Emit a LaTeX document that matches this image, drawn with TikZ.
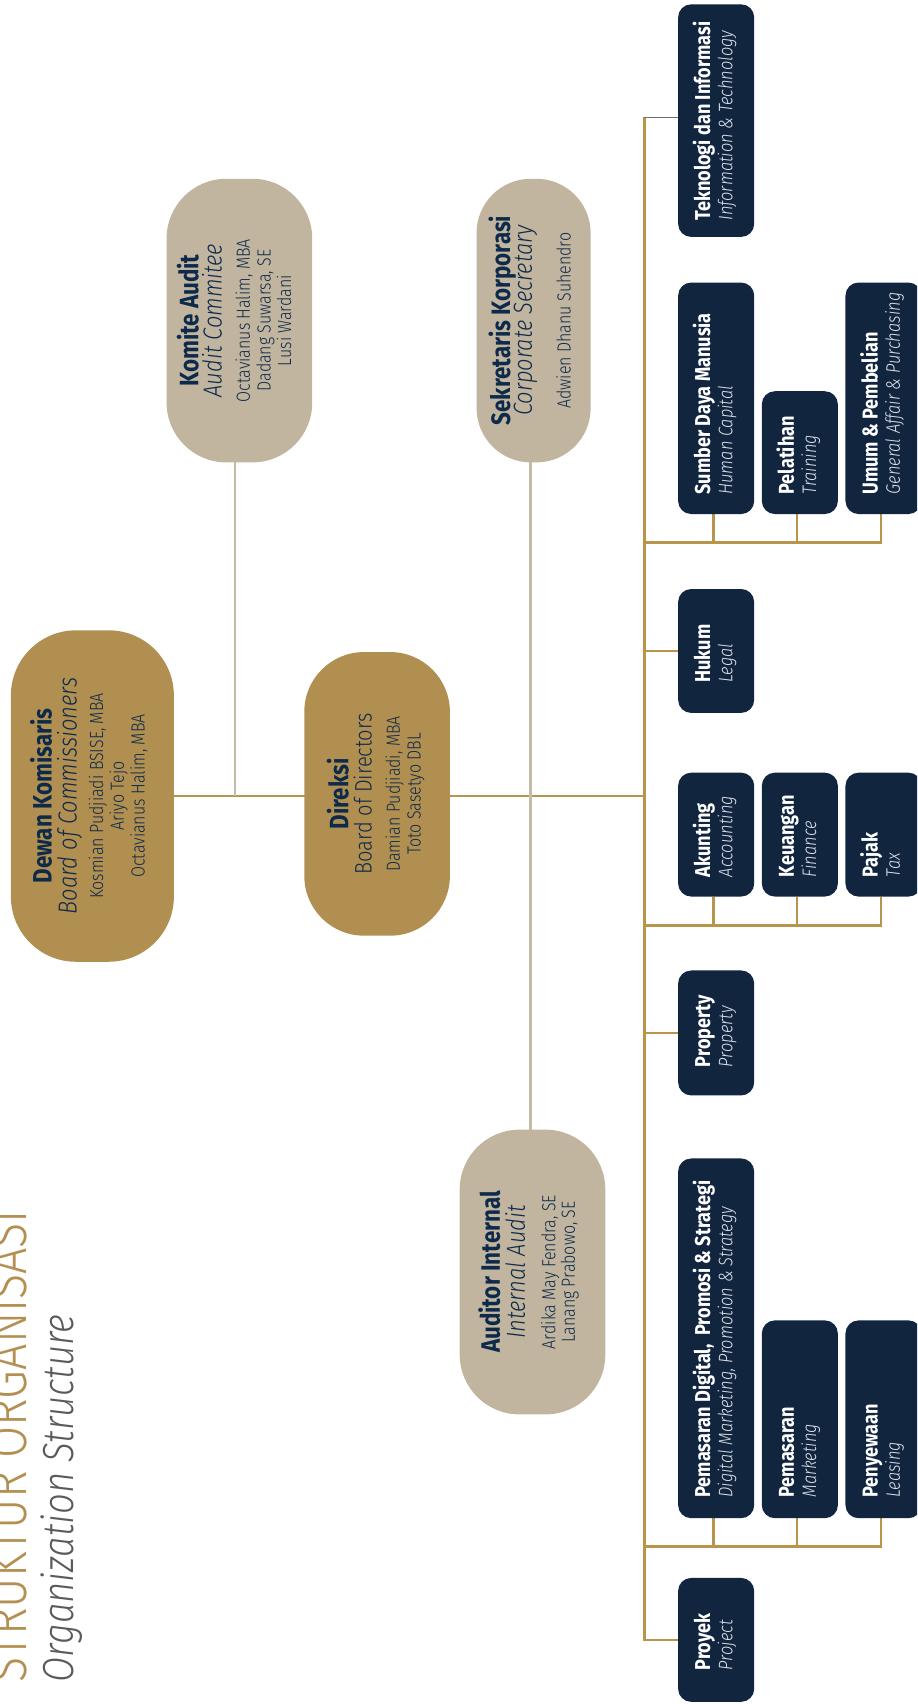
\documentclass[tikz,border=0pt]{standalone}
\usepackage{fontspec}
\setmainfont{Fira Sans}[FakeStretch=0.84]
\newfontfamily\lightfont{Fira Sans Light}[FakeStretch=0.84]
\usetikzlibrary{backgrounds}
\definecolor{gold}{HTML}{B08F50}
\definecolor{goldline}{HTML}{B8954A}
\definecolor{beige}{HTML}{C1B59F}
\definecolor{beigeline}{HTML}{C6BBA6}
\definecolor{navy}{HTML}{11253F}
\definecolor{ink}{HTML}{0E2A4B}
\definecolor{subgray}{HTML}{DDE2E9}
\definecolor{greyline}{HTML}{6F6F6F}
\definecolor{titlegold}{HTML}{B39052}
\definecolor{titlegrey}{HTML}{5A5A5A}

\tikzset{
  capsule/.style={fill=#1, draw=none, inner sep=0pt, outer sep=0pt},
  navybox/.style={fill=navy, draw=none, rounded corners=12pt, minimum width=70pt, inner sep=0pt, outer sep=0pt},
  txt/.style={inner sep=0pt, outer sep=0pt, rotate=90, anchor=base},
  captitle/.style={txt, text=ink, font=\fontsize{24.5}{28}\selectfont\bfseries},
  capsub/.style={txt, text=ink, font=\lightfont\fontsize{24}{28}\selectfont\itshape},
  capsubup/.style={txt, text=ink, font=\lightfont\fontsize{22}{26}\selectfont},
  capname/.style={txt, text=ink, font=\lightfont\fontsize{17.5}{20}\selectfont},
  boxtitle/.style={txt, anchor=base west, text=white, font=\fontsize{19.8}{24}\selectfont\bfseries},
  boxsub/.style={txt, anchor=base west, text=subgray, font=\lightfont\fontsize{18}{22}\selectfont\itshape},
  goldln/.style={draw=goldline, line width=2.4pt},
  beigeln/.style={draw=beigeline, line width=2.4pt},
  greyln/.style={draw=greyline, line width=1.4pt},
}

% #1 name, #2 x left, #3 y top, #4 y bottom, #5 text start above bottom, #6 title, #7 subtitle
\newcommand\navyunit[7]{%
  \node[navybox, minimum height={(#4)-(#3)}] (#1) at ({#2+35},{((#3)+(#4))/2}) {};
  \node[boxtitle] (#1-t) at ([xshift=29.5pt,yshift=#5pt]#1.south west) {#6};
  \node[boxsub] (#1-s) at ([xshift=50pt,yshift=#5pt]#1.south west) {#7};
}

\begin{document}
\begin{tikzpicture}[x=1pt,y=-1pt]
\useasboundingbox (0,0) rectangle (844,1568);
\clip (0,0) rectangle (844,1568);

% titles
\node[txt, anchor=base west, text=titlegold, font=\lightfont\fontsize{51}{56}\selectfont] (title) at (24,1548) {STRUKTUR ORGANISASI};
\node[txt, anchor=base west, text=titlegrey, font=\lightfont\fontsize{40}{46}\selectfont\itshape] (subtitle) at (68,1548) {Organization Structure};

% capsules
\node[capsule=gold, rounded corners=60pt, minimum width=150pt, minimum height=305pt] (dewan) at (85,732.5) {};
\node[captitle] (dewan-t) at (47.6,732.5) {Dewan Komisaris};
\node[capsub] (dewan-s) at (70.6,732.5) {Board of Commissioners};
\node[capname] (dewan-n1) at (95,732.5) {Kosmian Pudjiadi BSISE, MBA};
\node[capname] (dewan-n2) at (114,732.5) {Ariyo Tejo};
\node[capname] (dewan-n3) at (133,732.5) {Octavianus Halim, MBA};

\node[capsule=gold, rounded corners=55pt, minimum width=134pt, minimum height=261pt] (direksi) at (347,730.5) {};
\node[captitle] (direksi-t) at (320.6,730.5) {Direksi};
\node[capsubup] (direksi-s) at (342,730.5) {Board of Directors};
\node[capname] (direksi-n1) at (368,730.5) {Damian Pudjiadi, MBA};
\node[capname] (direksi-n2) at (387,730.5) {Toto Sasetyo DBL};

\node[capsule=beige, rounded corners=55pt, minimum width=134pt, minimum height=261pt] (komite) at (220.3,295) {};
\node[captitle] (komite-t) at (182.5,295) {Komite Audit};
\node[capsub] (komite-s) at (204,295) {Audit Commitee};
\node[capname] (komite-n1) at (230,295) {Octavianus Halim, MBA};
\node[capname] (komite-n2) at (249,295) {Dadang Suwarsa, SE};
\node[capname] (komite-n3) at (268,295) {Lusi Wardani};

\node[capsule=beige, rounded corners=50pt, minimum width=105pt, minimum height=261pt] (sek) at (491,295) {};
\node[captitle] (sek-t) at (469.4,295) {Sekretaris Korporasi};
\node[capsub] (sek-s) at (489.4,295) {Corporate Secretary};
\node[capname] (sek-n1) at (525,295) {Adwien Dhanu Suhendro};

\node[capsule=beige, rounded corners=55pt, minimum width=134pt, minimum height=262pt] (aud) at (490,1170.5) {};
\node[captitle] (aud-t) at (460,1170.5) {Auditor Internal};
\node[capsub] (aud-s) at (483,1170.5) {Internal Audit};
\node[capname] (aud-n1) at (511,1170.5) {Ardika May Fendra, SE};
\node[capname] (aud-n2) at (529,1170.5) {Lanang Prabowo, SE};

% navy units
\navyunit{tek}{624}{4}{218}{15}{Teknologi dan Informasi}{Information \& Technology}
\navyunit{sdm}{624}{260}{473}{18}{Sumber Daya Manusia}{Human Capital}
\navyunit{pel}{701}{360}{473}{18}{Pelatihan}{Training}
\navyunit{umum}{778}{260}{473}{18}{Umum \& Pembelian}{General Affair \& Purchasing}
\navyunit{hukum}{624}{542}{656}{28}{Hukum}{Legal}
\navyunit{akun}{624}{711}{825}{18}{Akunting}{Accounting}
\navyunit{keu}{701}{711}{825}{18}{Keuangan}{Finance}
\navyunit{pajak}{778}{711}{825}{18}{Pajak}{Tax}
\navyunit{prop}{624}{893}{1008}{26}{Property}{Property}
\navyunit{pds}{624}{1066}{1397}{19}{Pemasaran Digital,\ \ Promosi \& Strategi}{Digital Marketing, Promotion \& Strategy}
\navyunit{pem}{701}{1215}{1397}{19}{Pemasaran}{Marketing}
\navyunit{sew}{778}{1215}{1397}{19}{Penyewaan}{Leasing}
\navyunit{proyek}{624}{1452}{1566}{29}{Proyek}{Project}

\coordinate (trunk) at (593,108);
\coordinate (g1) at (593,499);
\coordinate (g2) at (593,851.5);
\coordinate (g3) at (593,1423);

\begin{scope}[on background layer]
  % main line
  \draw[goldln] (dewan.east) -- (dewan.east -| trunk);
  \draw[beigeln] ([xshift=-4pt]komite.south) -- ([xshift=-4pt]komite.south |- dewan.east);
  \draw[beigeln] ([xshift=-3pt]sek.south) -- ([xshift=-3pt]sek.south |- aud.north);
  % trunk
  \draw[goldln] (trunk) -- (trunk |- proyek.west) -- (proyek.west);
  \draw[greyln] (trunk) -- (trunk -| tek.west);
  % group 1
  \draw[goldln] ([xshift=-2.5pt]umum.south) |- (g1);
  \draw[goldln] ([xshift=-2.5pt]sdm.south) -- ([xshift=-2.5pt]sdm.south |- g1);
  \draw[goldln] ([xshift=-2.5pt]pel.south) -- ([xshift=-2.5pt]pel.south |- g1);
  % single branches
  \draw[goldln] (trunk |- hukum.west) -- (hukum.west);
  \draw[goldln] (trunk |- prop.west) -- (prop.west);
  % group 2
  \draw[goldln] ([xshift=-2.5pt]pajak.south) |- (g2);
  \draw[goldln] ([xshift=-2.5pt]akun.south) -- ([xshift=-2.5pt]akun.south |- g2);
  \draw[goldln] ([xshift=-2.5pt]keu.south) -- ([xshift=-2.5pt]keu.south |- g2);
  % group 3
  \draw[goldln] ([xshift=-2.5pt]sew.south) |- (g3);
  \draw[goldln] ([xshift=-2.5pt]pds.south) -- ([xshift=-2.5pt]pds.south |- g3);
  \draw[goldln] ([xshift=-2.5pt]pem.south) -- ([xshift=-2.5pt]pem.south |- g3);
\end{scope}
\end{tikzpicture}
\end{document}
